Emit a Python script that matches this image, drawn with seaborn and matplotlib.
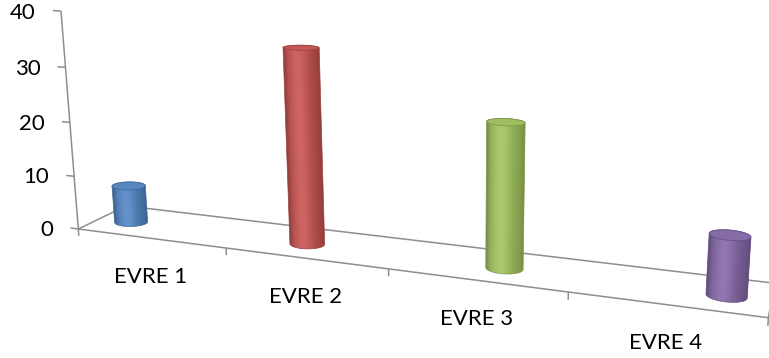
import numpy as np
import pandas as pd
import matplotlib
matplotlib.use("Agg")
import matplotlib.pyplot as plt
import matplotlib.transforms as mtransforms
import matplotlib.colors as mcolors
from matplotlib.collections import LineCollection
from matplotlib.patches import Polygon
import seaborn as sns

# ---- data -----------------------------------------------------------------
categories = ["EVRE 1", "EVRE 2", "EVRE 3", "EVRE 4"]
values = [7, 35, 25, 10]
colors = ["#4F81BD", "#C0504D", "#9BBB59", "#8064A2"]
y_ticks = [0, 10, 20, 30, 40]

# ---- canvas ---------------------------------------------------------------
W, H = 769, 358
sns.set_style("white")
plt.rcParams["font.family"] = ["Lato", "DejaVu Sans"]

fig = plt.figure(figsize=(W / 100, H / 100), dpi=100)
ax = fig.add_axes([0, 0, 1, 1])

# ---- 3-D perspective camera ---------------------------------------------
# world axes: X = category axis, Y = value axis, Z = floor depth
ORIGIN = np.array([78.3, 229.0])
VP_X, L_X = np.array([-3000.0, -166.8]), -0.04578
VP_Y, L_Y = np.array([457.0, 5000.0]), -0.0010924
VP_Z, L_Z = np.array([850.0, -144.7]), 0.0659

BAR_X0, BAR_DX = 0.22, 1.186    # category slot -> world X
BAR_Z = 0.45                     # depth of the column row
DEPTH_RATIO = 1.64               # world Z units per X unit (round cylinders)
BAR_WIDTH = 0.174
AXIS_TOP = 40
FLOOR_LEN = len(categories)


def project(X, Y, Z):
    X, Y, Z = np.broadcast_arrays(np.asarray(X, float), np.asarray(Y, float),
                                  np.asarray(Z, float))
    w = 1 + L_X * X + L_Y * Y + L_Z * Z
    px = (L_X * X * VP_X[0] + L_Y * Y * VP_Y[0] + L_Z * Z * VP_Z[0] + ORIGIN[0]) / w
    py = (L_X * X * VP_X[1] + L_Y * Y * VP_Y[1] + L_Z * Z * VP_Z[1] + ORIGIN[1]) / w
    return px, py, w


class ColumnPlane(mtransforms.Transform):
    """Maps (category position, value) onto the column row in perspective."""
    input_dims = output_dims = 2
    is_separable = False
    has_inverse = False

    def __init__(self, row_z):
        super().__init__()
        self.row_z = row_z

    def transform_non_affine(self, values):
        vals = np.asarray(values, float)
        pts = vals.reshape(-1, 2)
        px, py, _ = project(BAR_X0 + BAR_DX * pts[:, 0], pts[:, 1], self.row_z)
        return np.column_stack([px, py]).reshape(vals.shape)


def convex_hull(points):
    pts = sorted(set(map(tuple, np.round(points, 4))))

    def cross(o, a, b):
        return (a[0] - o[0]) * (b[1] - o[1]) - (a[1] - o[1]) * (b[0] - o[0])

    lower, upper = [], []
    for p in pts:
        while len(lower) >= 2 and cross(lower[-2], lower[-1], p) <= 0:
            lower.pop()
        lower.append(p)
    for p in reversed(pts):
        while len(upper) >= 2 and cross(upper[-2], upper[-1], p) <= 0:
            upper.pop()
        upper.append(p)
    return np.array(lower[:-1] + upper[:-1])


def shade(base, t):
    t = np.clip(t, 0, 1)[..., None]
    light = np.exp(-((t - 0.38) / 0.30) ** 2)
    edge = np.exp(-(t / 0.07) ** 2) + 0.6 * np.exp(-((1 - t) / 0.10) ** 2)
    c = base * (0.84 + 0.20 * light - 0.12 * edge)
    c = c + (1 - c) * 0.10 * light
    return np.clip(c, 0, 1)


# ---- columns drawn by seaborn --------------------------------------------
df = pd.DataFrame({"evre": categories, "deger": values})
sns.barplot(data=df, x="evre", y="deger", hue="evre", palette=colors,
            width=BAR_WIDTH, saturation=1, legend=False, ax=ax)

plane = ColumnPlane(BAR_Z)
theta = np.linspace(0, 2 * np.pi, 241)

for p in list(ax.patches):
    base = np.array(mcolors.to_rgb(p.get_facecolor()))
    p.set_transform(plane + ax.transData)
    p.set_edgecolor("none")
    p.set_zorder(2)

    # cylinder geometry taken from the seaborn bar
    u = p.get_x() + p.get_width() / 2
    v = p.get_height()
    xc = BAR_X0 + BAR_DX * u
    rx = BAR_DX * p.get_width() / 2
    rz = rx * DEPTH_RATIO
    cx = xc + rx * np.cos(theta)
    cz = BAR_Z + rz * np.sin(theta)
    bx, by, _ = project(cx, 0, cz)
    tx, ty, _ = project(cx, v, cz)

    hull = convex_hull(np.vstack([np.column_stack([bx, by]),
                                  np.column_stack([tx, ty])]))
    outline = Polygon(hull, closed=True, facecolor="none",
                      edgecolor=base * 0.80, linewidth=0.5, zorder=3.5,
                      transform=ax.transData)

    # shaded body: horizontal gradient following the cylinder's lean
    yb, yt = by.mean(), ty.mean()
    lb, rb = bx.min(), bx.max()
    lt, rt = tx.min(), tx.max()
    xs = np.arange(np.floor(hull[:, 0].min()) - 1, np.ceil(hull[:, 0].max()) + 2)
    ys = np.arange(np.floor(hull[:, 1].min()) - 1, np.ceil(hull[:, 1].max()) + 2)
    gx, gy = np.meshgrid(xs, ys)
    s = np.clip((gy - yb) / (yt - yb), 0, 1)
    left = lb + s * (lt - lb)
    right = rb + s * (rt - rb)
    img = shade(base, (gx - left) / (right - left))
    im = ax.imshow(img, extent=(xs[0] - 0.5, xs[-1] + 0.5, ys[-1] + 0.5, ys[0] - 0.5),
                   origin="upper", interpolation="bilinear", aspect="auto", zorder=3)
    clip = Polygon(hull, closed=True, transform=ax.transData)
    im.set_clip_path(clip)
    ax.add_patch(outline)

    # top cap
    cap_col = np.clip(base * 1.00 + (1 - base) * 0.05, 0, 1)
    ax.add_patch(Polygon(np.column_stack([tx, ty]), closed=True,
                         facecolor=cap_col, edgecolor=base * 0.82,
                         linewidth=0.6, zorder=4))

ax.set_xlim(0, W)
ax.set_ylim(H, 0)
ax.axis("off")

# ---- floor and axes --------------------------------------------------------
segs = []


def seg(p0, p1):
    a = project(*p0)
    b = project(*p1)
    segs.append([(float(a[0]), float(a[1])), (float(b[0]), float(b[1]))])


seg((0, 0, 0), (FLOOR_LEN, 0, 0))      # front edge
seg((0, 0, 0), (0, 0, 1))              # left edge
seg((0, 0, 1), (FLOOR_LEN, 0, 1))      # back edge
seg((FLOOR_LEN, 0, 0), (FLOOR_LEN, 0, 1))
seg((0, 0, 0), (0, AXIS_TOP, 0))       # value axis
for k in range(FLOOR_LEN + 1):         # category tick marks
    seg((k, 0, 0), (k, -1.3, 0))
for yv in y_ticks:                     # value tick marks
    seg((0, yv, 0), (-0.055, yv, 0))
ax.add_collection(LineCollection(segs, colors="#8E8E8E", linewidths=1.1, zorder=1))

# ---- labels ------------------------------------------------------------------
for yv in y_ticks:
    px, py, _ = project(-0.055, yv, 0)
    ax.text(float(px) - 17, float(py) + 2, f"{yv}", ha="right", va="center",
            fontsize=16, color="#000000")

for k, name in enumerate(categories):
    px, py, _ = project(k + 0.5, 0, 0)
    ax.text(float(px), float(py) + 38.5, name, ha="center", va="center",
            fontsize=16, color="#000000")

fig.savefig("out.png", dpi=100)
